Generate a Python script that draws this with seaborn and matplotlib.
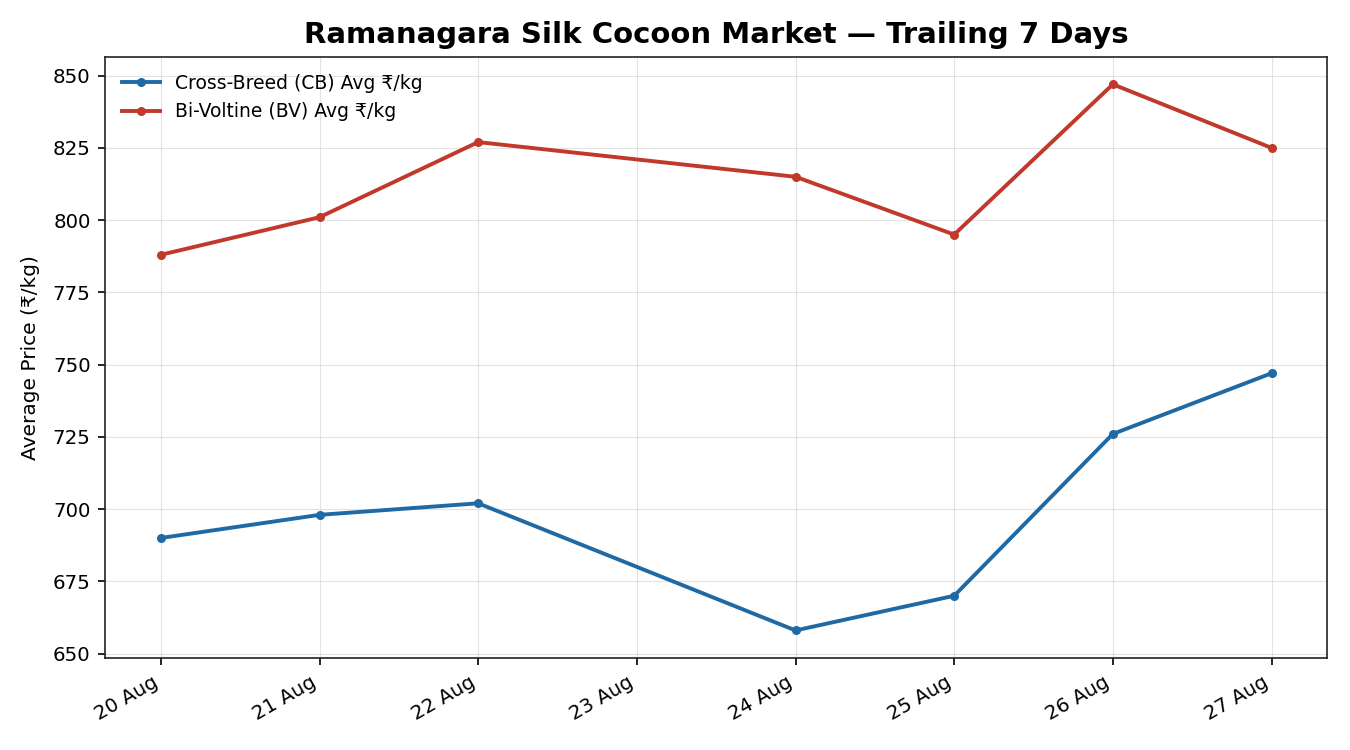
import matplotlib
matplotlib.use("Agg")
import matplotlib.pyplot as plt
import matplotlib.dates as mdates
import seaborn as sns
import pandas as pd

dates = ["2024-08-20", "2024-08-21", "2024-08-22", "2024-08-24", "2024-08-25", "2024-08-26", "2024-08-27"]
cb_values = [690, 698, 702, 658, 670, 726, 747]
bv_values = [788, 801, 827, 815, 795, 847, 825]
cb_label = "Cross-Breed (CB) Avg ₹/kg"
bv_label = "Bi-Voltine (BV) Avg ₹/kg"

df = pd.DataFrame({
    "date": pd.to_datetime(dates * 2),
    "price": cb_values + bv_values,
    "series": [cb_label] * len(dates) + [bv_label] * len(dates),
})

plt.rcParams['font.family'] = ['DejaVu Sans']

fig, ax = plt.subplots(figsize=(13.5, 7.5), dpi=100)
sns.lineplot(data=df, x="date", y="price", hue="series",
             palette={cb_label: "#1f6aa5", bv_label: "#c0392b"},
             marker="o", markersize=6.5, markeredgewidth=0, linewidth=2.8, ax=ax)

ax.xaxis.set_major_locator(mdates.DayLocator())
ax.xaxis.set_major_formatter(mdates.DateFormatter("%d %b"))
plt.setp(ax.get_xticklabels(), rotation=30, ha="right")
ax.tick_params(axis="both", labelsize=14.2, length=5, width=1.2, pad=5.5)
ax.grid(True, alpha=0.35)
for s in ax.spines.values():
    s.set_color("#222222")
    s.set_linewidth(1.2)
ax.set_xlabel("")
ax.set_ylabel("Average Price (₹/kg)", fontsize=14.5, labelpad=9)
ax.set_title("Ramanagara Silk Cocoon Market — Trailing 7 Days", fontsize=21, fontweight="bold", pad=10)
ax.legend(loc="upper left", frameon=False, fontsize=13.5, title=None)

fig.subplots_adjust(left=0.078, right=0.983, top=0.924, bottom=0.123)
fig.savefig("out.png", dpi=100)
